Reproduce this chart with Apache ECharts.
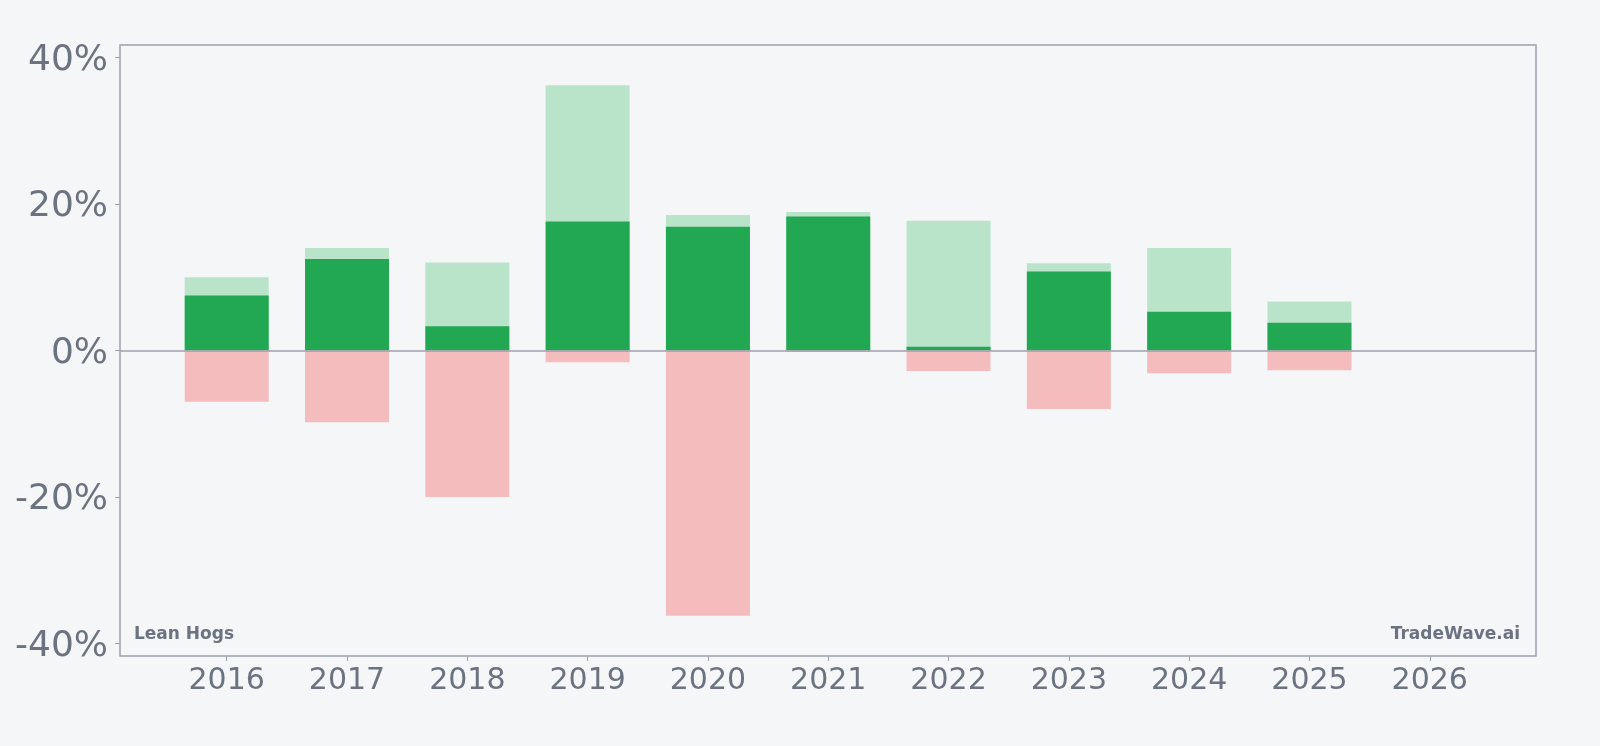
<!DOCTYPE html>
<html>
<head>
<meta charset="utf-8">
<script src="https://cdn.jsdelivr.net/npm/echarts@6/dist/echarts.min.js"></script>
<style>
  html, body { margin: 0; padding: 0; background: #f5f6f8; }
  #chart { width: 1600px; height: 746px; }
</style>
</head>
<body>
<div id="chart"></div>
<script>
// yearly values, in percent
const years = [2016, 2017, 2018, 2019, 2020, 2021, 2022, 2023, 2024, 2025];
const maxUp = [10.0, 14.0, 12.0, 36.2, 18.5, 18.9, 17.7, 11.9, 14.0, 6.7];
const finalRet = [7.5, 12.5, 3.3, 17.6, 16.9, 18.3, 0.5, 10.8, 5.3, 3.8];
const maxDown = [-7.0, -9.8, -20.0, -1.6, -36.2, -0.2, -2.8, -8.0, -3.1, -2.7];
const yearTicks = [2016, 2017, 2018, 2019, 2020, 2021, 2022, 2023, 2024, 2025, 2026];
const pctTicks = [-40, -20, 0, 20, 40];

const textGray = '#6b7280';
const frameGray = '#9ca0ab';

function pairs(vals) {
  return years.map((y, i) => [y, vals[i]]);
}

const chart = echarts.init(document.getElementById('chart'));
chart.setOption({
  backgroundColor: '#f5f6f8',
  animation: false,
  grid: {
    left: 120, right: 64, top: 45, bottom: 90,
    show: true,
    borderColor: frameGray,
    borderWidth: 1.5,
    backgroundColor: 'transparent'
  },
  xAxis: {
    type: 'value',
    min: 2015.113,
    max: 2026.883,
    axisLine: { show: false, onZero: false },
    splitLine: { show: false },
    axisTick: { show: true, length: 5, lineStyle: { color: frameGray, width: 1 }, customValues: yearTicks },
    axisLabel: {
      customValues: yearTicks,
      color: textGray,
      fontSize: 30,
      fontFamily: 'DejaVu Sans',
      margin: 10,
      formatter: v => String(v)
    }
  },
  yAxis: {
    type: 'value',
    min: -41.7,
    max: 41.7,
    axisLine: { show: false, onZero: false },
    splitLine: { show: false },
    axisTick: { show: true, length: 5, lineStyle: { color: frameGray, width: 1 }, customValues: pctTicks },
    axisLabel: {
      customValues: pctTicks,
      margin: 12,
      formatter: v => '{p|' + v + '%}',
      rich: {
        p: {
          color: textGray,
          fontSize: 36,
          fontFamily: 'DejaVu Sans',
          padding: [6, 0, 0, 0]
        }
      }
    }
  },
  series: [
    {
      name: 'max up',
      type: 'bar',
      data: pairs(maxUp),
      barWidth: 84,
      barGap: '-100%',
      itemStyle: { color: '#b9e4c9' },
      silent: true
    },
    {
      name: 'return',
      type: 'bar',
      data: pairs(finalRet),
      barWidth: 84,
      barGap: '-100%',
      itemStyle: { color: '#22a852' },
      silent: true
    },
    {
      name: 'max down',
      type: 'bar',
      data: pairs(maxDown),
      barWidth: 84,
      barGap: '-100%',
      itemStyle: { color: '#f4bcbc' },
      silent: true,
      markLine: {
        silent: true,
        symbol: 'none',
        label: { show: false },
        lineStyle: { color: frameGray, width: 1.5, type: 'solid' },
        data: [{ yAxis: 0 }]
      }
    }
  ],
  graphic: [
    {
      type: 'text',
      left: 134,
      top: 626,
      style: { text: 'Lean Hogs', fill: textGray, font: 'bold 17px "DejaVu Sans"' }
    },
    {
      type: 'text',
      right: 80,
      top: 626,
      style: { text: 'TradeWave.ai', fill: textGray, font: 'bold 17px "DejaVu Sans"' }
    }
  ]
});
</script>
</body>
</html>
